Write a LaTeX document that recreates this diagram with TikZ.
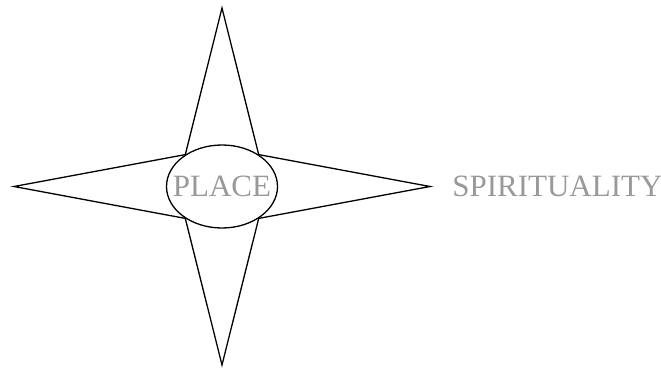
\documentclass[tikz,border=0pt]{standalone}
\usepackage{fontspec}
\setmainfont{Liberation Serif}
\usetikzlibrary{shapes.geometric, positioning}

\begin{document}
\begin{tikzpicture}[x=1pt, y=-1pt, line width=1.3pt,
    word/.style={text=gray!80, font=\fontsize{31}{36}\selectfont, inner sep=0pt}]
  \useasboundingbox (0,0) rectangle (661,367);
  % centre of the star
  \node[ellipse, draw, minimum width=111pt, minimum height=83pt, inner sep=0pt] (place) at (222,186.5) {};
  \node[word] (placetext) at (place) {PLACE};
  % outer points
  \coordinate (top) at (222,8);
  \coordinate (bottom) at (222,365);
  \coordinate (left) at (14,186.5);
  \coordinate (right) at (430,186.5);
  \draw[line join=miter] (place.139) -- (top) -- (place.41) -- (right) -- (place.-41)
    -- (bottom) -- (place.-139) -- (left) -- cycle;
  \node[word, anchor=base west] (spirit) at (451.7,196) {SPIRITUALITY};
\end{tikzpicture}
\end{document}
